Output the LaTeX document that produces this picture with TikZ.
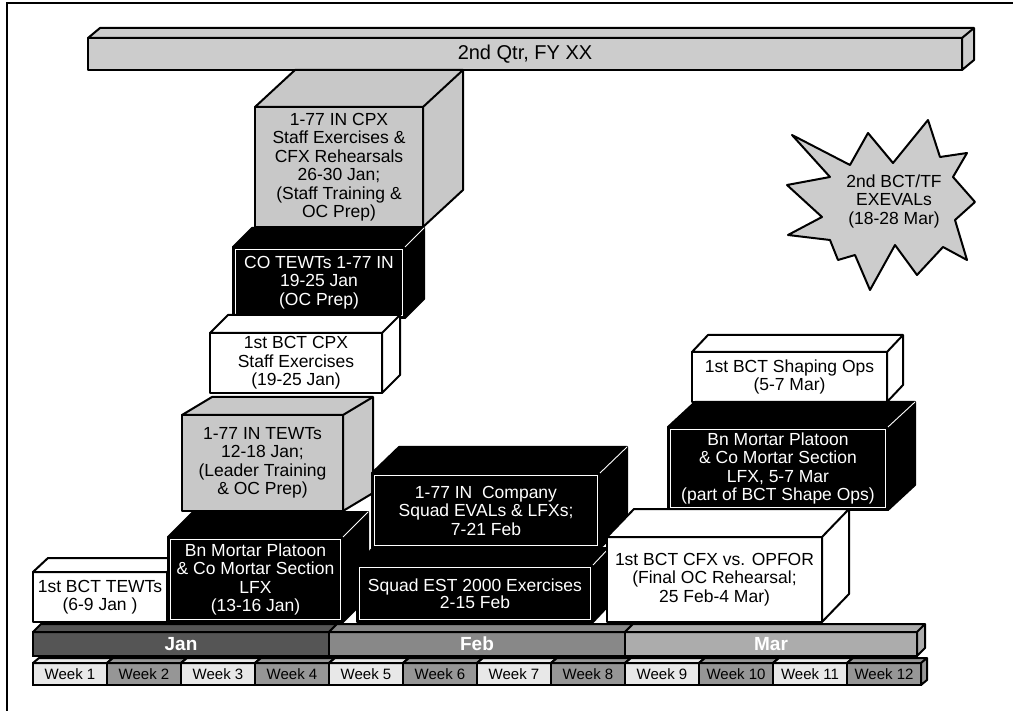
\documentclass[tikz,border=0pt]{standalone}
\usepackage{fontspec}
\setmainfont{Liberation Sans}
\usetikzlibrary{calc}
\definecolor{boxgray}{RGB}{200,200,200}
\definecolor{qtrgray}{RGB}{204,204,204}
\definecolor{jancol}{RGB}{85,85,85}
\definecolor{febcol}{RGB}{136,136,136}
\definecolor{marcol}{RGB}{172,172,172}
\definecolor{wklight}{RGB}{232,232,232}
\definecolor{wkdark}{RGB}{150,150,150}
\newcommand{\boxfont}{\fontsize{17.5}{18.5}\selectfont}
% top and right faces of a block, drawn from the node's corners
\newcommand{\sides}[4]{%
  \draw[side, fill=#4] (#1.north west) -- ++(#2,#3) -- ($(#1.north east)+(#2,#3)$)
    -- ($(#1.south east)+(#2,#3)$) -- (#1.south east) -- (#1.north east) -- cycle
    (#1.north east) -- ++(#2,#3);}
\newcommand{\blksides}[3]{%
  \sides{#1}{#2}{#3}{black}
  \draw[wline] ([shift={(2.5,-2.5)}]#1.south west) rectangle ([shift={(-2.5,2.5)}]#1.north east)
    (#1.north east) -- ++(#2,#3);}

\begin{document}
\begin{tikzpicture}[x=1pt, y=-1pt,
  tbox/.style={font=\boxfont, align=center, inner sep=0pt, outer sep=0pt, line width=2pt, line join=round},
  wbox/.style={tbox, draw=black, fill=white},
  gbox/.style={tbox, draw=black, fill=boxgray},
  kbox/.style={tbox, draw=black, fill=black, text=white},
  side/.style={draw=black, line width=2pt, line join=round},
  wline/.style={draw=white, line width=0.9pt},
  mbar/.style={draw=black, line width=1.8pt, inner sep=0pt, outer sep=0pt, minimum height=24pt, text=white, font=\bfseries\fontsize{19}{19}\selectfont},
  wbar/.style={draw=black, line width=1.6pt, inner sep=0pt, outer sep=0pt, minimum width=74pt, minimum height=22pt, font=\fontsize{15}{15}\selectfont}
]
\useasboundingbox (0,0) rectangle (1013,711);
\draw[line width=1.5pt] (7,711) -- (7,3) -- (1013,3);

% quarter bar
\node[tbox, draw=black, fill=qtrgray, minimum width=874pt, minimum height=32pt, font=\fontsize{20}{20}\selectfont] (qtr) at (525,54) {2nd Qtr, FY XX};
\sides{qtr}{12}{-10}{qtrgray}

% January stack
\node[gbox, minimum width=168pt, minimum height=120pt] (cpx) at (339,167)
  {1-77 IN CPX\\Staff Exercises \&\\CFX Rehearsals\\26-30 Jan;\\(Staff Training \&\\OC Prep)};
\sides{cpx}{40}{-37}{boxgray}
\node[kbox, minimum width=172pt, minimum height=71pt] (cotewt) at (319,282.5)
  {CO TEWTs 1-77 IN\\19-25 Jan\\(OC Prep)};
\blksides{cotewt}{19}{-19}
\node[wbox, minimum width=172pt, minimum height=60pt] (bctcpx) at (296,363)
  {1st BCT CPX\\Staff Exercises\\(19-25 Jan)};
\sides{bctcpx}{18}{-18}{white}
\node[gbox, minimum width=161pt, minimum height=96pt] (intewt) at (262.5,463)
  {1-77 IN TEWTs\\12-18 Jan;\\(Leader Training\\\& OC Prep)};
\sides{intewt}{30}{-18}{boxgray}

% March stack
\node[wbox, minimum width=195pt, minimum height=50pt] (shaping) at (789.5,377)
  {1st BCT Shaping Ops\\(5-7 Mar)};
\sides{shaping}{16}{-17}{white}
\node[kbox, minimum width=220pt, minimum height=83pt] (bnmar) at (778,468.5)
  {Bn Mortar Platoon\\\& Co Mortar Section\\LFX, 5-7 Mar\\(part of BCT Shape Ops)};
\blksides{bnmar}{27}{-25}

% February stack
\node[kbox, minimum width=228pt, minimum height=75pt] (company) at (486,510.5)
  {1-77 IN\ \ Company\\Squad EVALs \& LFXs;\\7-21 Feb};
\blksides{company}{27}{-26}

% bottom row
\node[wbox, minimum width=134pt, minimum height=50pt] (bctte) at (100,597)
  {1st BCT TEWTs\\(6-9 Jan )};
\sides{bctte}{15}{-14}{white}
\node[kbox, minimum width=175pt, minimum height=85pt] (bnmort) at (255.5,579.5)
  {Bn Mortar Platoon\\\& Co Mortar Section\\LFX\\(13-16 Jan)};
\blksides{bnmort}{25}{-25}
\node[kbox, minimum width=236pt, minimum height=57pt] (squad) at (475,593.5)
  {Squad EST 2000 Exercises\\[-2pt]2-15 Feb};
\blksides{squad}{16}{-17}
\node[wbox, minimum width=215pt, minimum height=85pt] (cfx) at (714.5,579.5)
  {1st BCT CFX vs. OPFOR\\(Final OC Rehearsal;\\25 Feb-4 Mar)};
\sides{cfx}{27}{-28}{white}

% exercise evaluation burst
\draw[side, fill=qtrgray] plot coordinates {(792,135) (850,165) (868,133) (893,163) (928,120) (940,157)
  (967,153) (953,177) (975,202) (955,220) (967,260) (943,247) (917,275) (895,245) (870,290) (855,255)
  (838,260) (830,240) (788,235) (822,217) (787,185) (830,177)} -- cycle;
\node[tbox] (exeval) at (894,201) {2nd BCT/TF\\EXEVALs\\(18-28 Mar)};

% months
\foreach \m/\c/\x/\w in {Jan/jancol/181/296, Feb/febcol/477/296, Mar/marcol/771/292} {
  \node[mbar, fill=\c, minimum width=\w pt] (\m) at (\x,644) {\m};
  \sides{\m}{8}{-8}{\c}
}

% weeks
\foreach \i in {1,...,12} {
  \ifodd\i \def\wc{wklight}\else \def\wc{wkdark}\fi
  \node[wbar, fill=\wc] (wk\i) at ({74*\i-4},674) {Week \i};
  \sides{wk\i}{6}{-5}{\wc}
}
\end{tikzpicture}
\end{document}
